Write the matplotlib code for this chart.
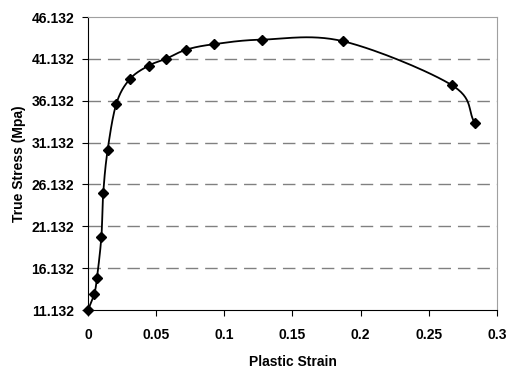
import matplotlib
matplotlib.use("Agg")
import matplotlib.pyplot as plt
import numpy as np

# data
strain = [0.0, 0.0046, 0.0066, 0.0098, 0.0112, 0.0144, 0.0208, 0.0306,
          0.0445, 0.0575, 0.0721, 0.0922, 0.1279, 0.1873, 0.267, 0.2837]
stress = [11.132, 13.08, 15.0, 19.85, 25.15, 30.25, 35.78, 38.70,
          40.32, 41.16, 42.23, 42.88, 43.43, 43.23, 37.98, 33.47]
y_ticks = [11.132, 16.132, 21.132, 26.132, 31.132, 36.132, 41.132, 46.132]
x_ticks = [0, 0.05, 0.1, 0.15, 0.2, 0.25, 0.3]
x_labels = ["0", "0.05", "0.1", "0.15", "0.2", "0.25", "0.3"]


def smooth(x, y, n=30):
    # Catmull-Rom style smoothing, like a spreadsheet "smoothed line"
    x = np.asarray(x)
    y = np.asarray(y)
    px = np.concatenate([[2 * x[0] - x[1]], x, [2 * x[-1] - x[-2]]])
    py = np.concatenate([[2 * y[0] - y[1]], y, [2 * y[-1] - y[-2]]])
    t = np.linspace(0, 1, n)
    xs, ys = [], []
    for i in range(1, len(px) - 2):
        for p, out in ((px, xs), (py, ys)):
            p0, p1, p2, p3 = p[i - 1], p[i], p[i + 1], p[i + 2]
            c1 = p1 + (p2 - p0) / 6
            c2 = p2 - (p3 - p1) / 6
            out.extend((1 - t) ** 3 * p1 + 3 * (1 - t) ** 2 * t * c1
                       + 3 * (1 - t) * t ** 2 * c2 + t ** 3 * p2)
    return xs, ys


plt.rcParams['font.family'] = ['Liberation Sans', 'DejaVu Sans']

fig = plt.figure(figsize=(5.09, 3.68), dpi=100)
ax = fig.add_axes([0.1729, 0.1576, 0.8035, 0.7962])

for yv in y_ticks[1:-1]:
    ax.axhline(yv, color='#808080', lw=1.0, dashes=(9, 5), zorder=1)

sx, sy = smooth(strain, stress)
ax.plot(sx, sy, color='black', lw=1.3, zorder=2)
ax.plot(strain, stress, linestyle='none', marker='D', ms=5.5,
        color='black', zorder=3, clip_on=False)

ax.set_xlim(0, 0.3)
ax.set_ylim(11.132, 46.132)
ax.set_xticks(x_ticks)
ax.set_xticklabels(x_labels)
ax.set_yticks(y_ticks)
ax.set_yticklabels([f"{v:.3f}" for v in y_ticks])

for lbl in ax.get_xticklabels() + ax.get_yticklabels():
    lbl.set_fontweight('bold')
    lbl.set_fontsize(10)
ax.tick_params(axis='x', direction='out', length=4, pad=9, color='black')
ax.tick_params(axis='y', direction='out', length=4, pad=6, color='black')

ax.spines['left'].set_color('black')
ax.spines['bottom'].set_color('black')
ax.spines['top'].set_color('#a0a0a0')
ax.spines['right'].set_color('#a0a0a0')

ax.set_xlabel('Plastic Strain', fontsize=10, fontweight='bold', labelpad=9)
ax.set_ylabel('True Stress (Mpa)', fontsize=10, fontweight='bold', labelpad=4)

fig.savefig('out.png', dpi=100)
